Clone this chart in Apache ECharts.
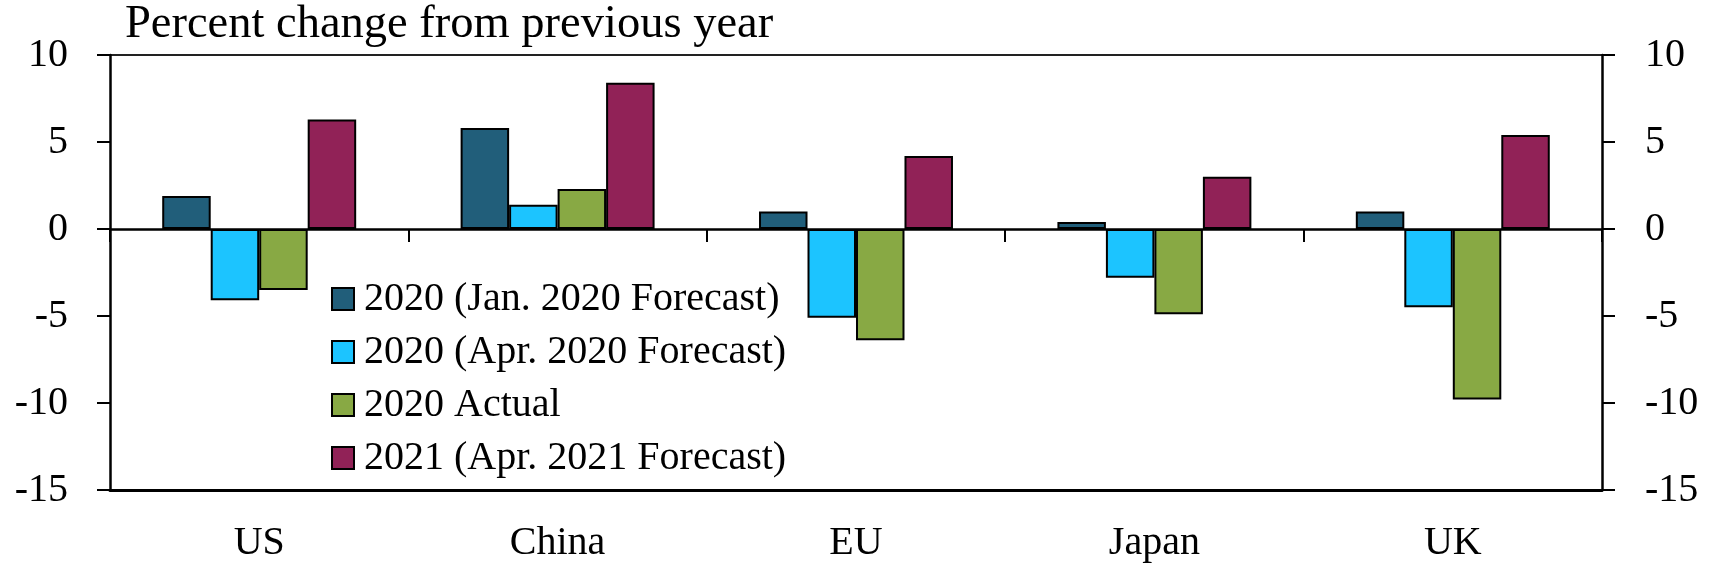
<!DOCTYPE html>
<html>
<head>
<meta charset="utf-8">
<script src="https://cdn.jsdelivr.net/npm/echarts@6/dist/echarts.min.js"></script>
<style>
html,body{margin:0;padding:0;background:#fff;}
#chart{width:1713px;height:571px;}
</style>
</head>
<body>
<div id="chart"></div>
<script>
// ---- data ----
const categories = ['US', 'China', 'EU', 'Japan', 'UK'];
const seriesNames = ['2020 (Jan. 2020 Forecast)', '2020 (Apr. 2020 Forecast)', '2020 Actual', '2021 (Apr. 2021 Forecast)'];
const jan2020Forecast = [1.9, 5.8, 1.0, 0.4, 1.0];
const apr2020Forecast = [-4.1, 1.4, -5.1, -2.8, -4.5];
const actual2020 = [-3.5, 2.3, -6.4, -4.9, -9.8];
const apr2021Forecast = [6.3, 8.4, 4.2, 3.0, 5.4];
const yMin = -15, yMax = 10, yStep = 5;
const titleText = 'Percent change from previous year';

// ---- styles ----
const colors = ['#215E7A', '#1CC4FF', '#88A944', '#912257'];
const FONT = '"Liberation Serif", "DejaVu Serif", serif';
const values = [jan2020Forecast, apr2020Forecast, actual2020, apr2021Forecast];

const chart = echarts.init(document.getElementById('chart'), null, {renderer: 'canvas'});

const yAxisCommon = {
  type: 'value', min: yMin, max: yMax, interval: yStep,
  axisLine: {show: true, onZero: false, lineStyle: {color: '#000', width: 2.5}},
  axisTick: {show: true, inside: false, length: 13, lineStyle: {color: '#000', width: 2}},
  axisLabel: {fontFamily: FONT, fontSize: 40, color: '#000', margin: 42},
  splitLine: {show: false}
};

const option = {
  animation: false,
  backgroundColor: '#fff',
  title: {
    text: titleText, left: 125, top: 1, padding: 0,
    textStyle: {fontFamily: FONT, fontSize: 46.5, fontWeight: 'normal', color: '#000'}
  },
  grid: {left: 110, right: 111, top: 55, bottom: 81, containLabel: false},
  legend: {
    orient: 'vertical', left: 331, top: 279, padding: 0,
    itemWidth: 22, itemHeight: 22, itemGap: 13,
    icon: 'rect',
    itemStyle: {borderColor: '#000', borderWidth: 2},
    data: seriesNames,
    textStyle: {fontFamily: FONT, fontSize: 40, color: '#000', lineHeight: 40, padding: [0, 0, 0, 5]}
  },
  xAxis: [
    {
      type: 'category', data: categories,
      axisLine: {show: true, onZero: true, lineStyle: {color: '#000', width: 2.5}},
      axisTick: {show: true, inside: false, length: 13, lineStyle: {color: '#000', width: 2}},
      axisLabel: {show: false},
      splitLine: {show: false},
      z: 5
    },
    {
      type: 'category', data: categories, position: 'bottom',
      axisLine: {show: true, onZero: false, lineStyle: {color: '#000', width: 3}},
      axisTick: {show: false},
      axisLabel: {fontFamily: FONT, fontSize: 40, color: '#000', margin: 33},
      splitLine: {show: false}
    }
  ],
  yAxis: [
    Object.assign({}, yAxisCommon, {
      position: 'left',
      splitLine: {show: true, lineStyle: {width: 2, color: ['rgba(0,0,0,0)', 'rgba(0,0,0,0)', 'rgba(0,0,0,0)', 'rgba(0,0,0,0)', 'rgba(0,0,0,0)', '#222']}}
    }),
    Object.assign({}, yAxisCommon, {
      position: 'right',
      axisLabel: {fontFamily: FONT, fontSize: 40, color: '#000', margin: 43}
    })
  ],
  series: seriesNames.map((name, i) => ({
    name: name, type: 'bar', xAxisIndex: 0, yAxisIndex: 0,
    data: values[i],
    barGap: '0%', barCategoryGap: '35%',
    itemStyle: {color: colors[i], borderColor: '#000', borderWidth: 2},
    emphasis: {disabled: true}
  }))
};
chart.setOption(option);
</script>
</body>
</html>
